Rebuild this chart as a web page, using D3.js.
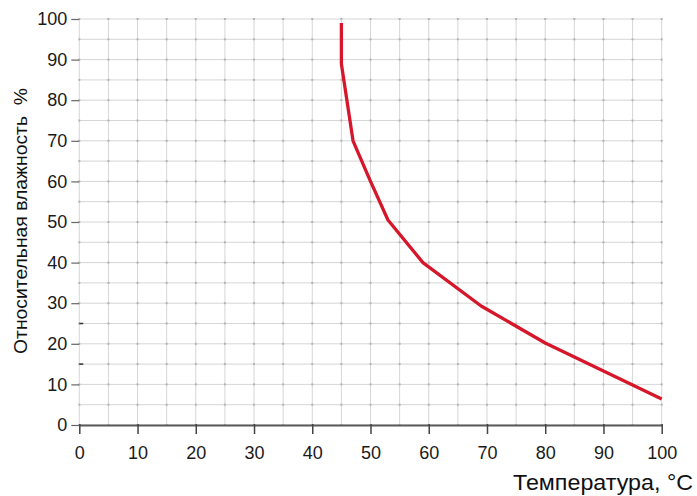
<!DOCTYPE html>
<html>
<head>
<meta charset="utf-8">
<script src="https://cdn.jsdelivr.net/npm/d3@7"></script>
<style>
  body { margin: 0; background: #fff; }
  svg { font-family: "Liberation Sans", Arial, sans-serif; }
</style>
</head>
<body>
<svg width="697" height="496"></svg>
<script>
// temperature, °C
var temps = [45, 45, 47, 50, 53, 59, 69, 80, 90, 100];
// relative humidity, %
var humidity = [99, 89, 70, 60, 50.5, 40, 29.3, 20.2, 13.3, 6.4];
var xTicks = [0, 10, 20, 30, 40, 50, 60, 70, 80, 90, 100];
var yTicks = [0, 10, 20, 30, 40, 50, 60, 70, 80, 90, 100];

var svg = d3.select('svg');
var x = d3.scaleLinear().domain([0, 100]).range([79.3, 661.7]);
var y = d3.scaleLinear().domain([0, 100]).range([425, 19]);

var grid = d3.range(0, 101, 5);

// grid
svg.append('g')
    .selectAll('line')
    .data(grid)
    .enter()
    .append('line')
        .attr('x1', function (d) { return x(d); })
        .attr('x2', function (d) { return x(d); })
        .attr('y1', y(0))
        .attr('y2', y(100))
        .attr('stroke', '#d6d6d6')
        .attr('stroke-width', 1)
;
svg.append('g')
    .selectAll('line')
    .data(grid)
    .enter()
    .append('line')
        .attr('x1', x(0))
        .attr('x2', x(100))
        .attr('y1', function (d) { return y(d); })
        .attr('y2', function (d) { return y(d); })
        .attr('stroke', '#d6d6d6')
        .attr('stroke-width', 1)
;

// dots at grid crossings
var cross = [];
grid.forEach(function (a) {
    grid.forEach(function (b) { cross.push([a, b]); });
});
svg.append('g')
    .selectAll('rect')
    .data(cross)
    .enter()
    .append('rect')
        .attr('x', function (d) { return x(d[0]) - 1; })
        .attr('y', function (d) { return y(d[1]) - 1; })
        .attr('width', 2)
        .attr('height', 2)
        .attr('fill', '#b4b4b4')
;

// x axis
var xAxis = svg.append('g')
    .attr('transform', 'translate(0,' + y(0) + ')')
    .call(d3.axisBottom(x).tickValues(xTicks).tickSize(9).tickPadding(12).tickSizeOuter(0));
xAxis.select('.domain').attr('stroke', '#5a5a5a').attr('stroke-width', 2);
xAxis.selectAll('.tick line').attr('stroke', '#444').attr('stroke-width', 1.5).attr('y1', -1);
xAxis.selectAll('text').attr('font-size', 18).attr('fill', '#1a1a1a').attr('font-family', 'Liberation Sans, Arial, sans-serif');

// y axis
var yAxis = svg.append('g')
    .attr('transform', 'translate(' + x(0) + ',0)')
    .call(d3.axisLeft(y).tickValues(yTicks).tickSize(8).tickPadding(4).tickSizeOuter(0));
yAxis.select('.domain').remove();
yAxis.selectAll('.tick line').attr('stroke', '#666').attr('stroke-width', 1.2);
yAxis.selectAll('text').attr('font-size', 18).attr('fill', '#1a1a1a').attr('font-family', 'Liberation Sans, Arial, sans-serif');

// small inner marks at 15 and 25
svg.append('g')
    .selectAll('line')
    .data([15, 25])
    .enter()
    .append('line')
        .attr('x1', x(0))
        .attr('x2', x(0) + 4)
        .attr('y1', function (d) { return y(d); })
        .attr('y2', function (d) { return y(d); })
        .attr('stroke', '#333')
        .attr('stroke-width', 1.5)
;

// curve
var pts = temps.map(function (t, i) { return [t, humidity[i]]; });
svg.append('path')
    .datum(pts)
    .attr('fill', 'none')
    .attr('stroke', '#d6172b')
    .attr('stroke-width', 3.3)
    .attr('stroke-linejoin', 'round')
    .attr('d', d3.line()
        .x(function (d) { return x(d[0]); })
        .y(function (d) { return y(d[1]); }))
;

// labels
svg.append('text')
    .attr('x', 693)
    .attr('y', 490)
    .attr('text-anchor', 'end')
    .attr('font-size', 22)
    .attr('fill', '#111')
    .attr('textLength', 180)
    .attr('lengthAdjust', 'spacingAndGlyphs')
    .text('Температура, °C');

svg.append('text')
    .attr('transform', 'translate(27,221) rotate(-90)')
    .attr('text-anchor', 'middle')
    .attr('font-size', 19)
    .attr('fill', '#111')
    .attr('xml:space', 'preserve')
    .attr('textLength', 266)
    .attr('lengthAdjust', 'spacingAndGlyphs')
    .text('Относительная влажность  %');
</script>
</body>
</html>
